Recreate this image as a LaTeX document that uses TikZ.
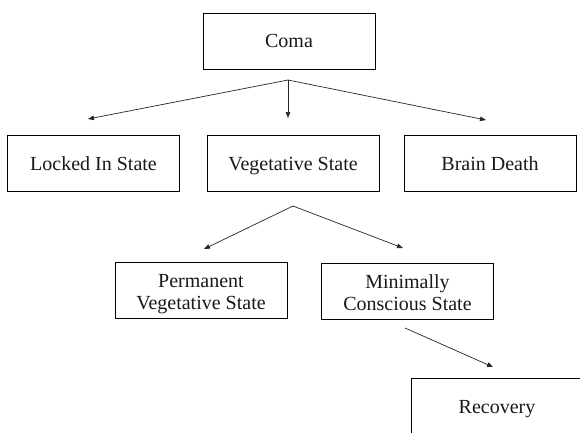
\documentclass[tikz,border=0pt]{standalone}
\usepackage{fontspec}
\setmainfont{Liberation Serif}
\usetikzlibrary{arrows.meta}
\newcommand{\twolines}[2]{\begin{tabular}[t]{@{}c@{}}#1\\#2\end{tabular}}
\begin{document}
\begin{tikzpicture}[x=1pt,y=-1pt,
  box/.style={draw=black,line width=0.9pt,minimum width=172pt,minimum height=56pt,
    inner sep=0pt,align=center,font=\fontsize{20}{22}\selectfont,text=black!90},
  onebox/.style={box,text height=15pt,text depth=2pt},
  twobox/.style={box,text height=15pt,text depth=21pt},
  link/.style={draw=black!85,line width=0.7pt,-{Triangle[length=6pt,width=4.5pt]}}]
\useasboundingbox (0,0) rectangle (580,432);
\clip (0,0) rectangle (580,432);
\fill[white] (0,0) rectangle (580,432);
\node[onebox] (coma) at (289,41) {Coma};
\node[onebox] (locked) at (93.5,163.5) {Locked In State};
\node[onebox] (veg) at (293,163.5) {Vegetative State};
\node[onebox] (brain) at (490,163.5) {Brain Death};
\node[twobox] (perm) at (201,290) {\twolines{Permanent}{Vegetative State}};
\node[twobox] (mcs) at (407.5,291) {\twolines{Minimally}{Conscious State}};
\node[onebox] (rec) at (497,406.5) {Recovery};
\coordinate (a1) at (288,80);
\coordinate (t1) at (88,119);
\coordinate (t2) at (288,118);
\coordinate (t3) at (486,120);
\coordinate (a2) at (293,206);
\coordinate (t4) at (204,249);
\coordinate (t5) at (403,248);
\coordinate (a3) at (405,328);
\coordinate (t6) at (493,367);
\draw[link] (a1) -- (t1);
\draw[link] (a1) -- (t2);
\draw[link] (a1) -- (t3);
\draw[link] (a2) -- (t4);
\draw[link] (a2) -- (t5);
\draw[link] (a3) -- (t6);
\end{tikzpicture}
\end{document}
